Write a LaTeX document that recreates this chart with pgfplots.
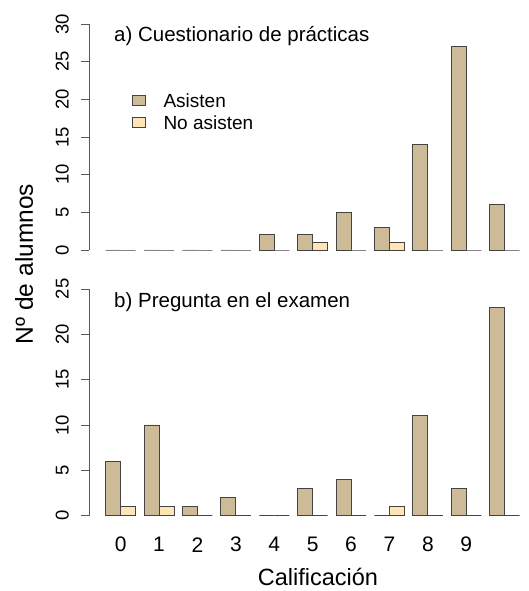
\documentclass[border=0pt]{standalone}
\usepackage{fontspec}
\setmainfont{Liberation Sans}
\usepackage{pgfplots}
\pgfplotsset{compat=1.18}
\definecolor{asis}{HTML}{CDBA96}
\definecolor{noasis}{HTML}{FFE4B5}
\definecolor{edge}{HTML}{444444}
\pgfplotsset{
  boxlegend/.style={legend image code/.code={\draw[##1] (0pt,-5pt) rectangle (13pt,5pt);}},
  panel/.style={
    anchor=south west, scale only axis,
    x=38.4pt, xmin=-0.825, xmax=10.5,
    ymin=0, clip=false,
    axis y line*=left, axis x line*=bottom,
    x axis line style={draw=none},
    y axis line style={draw=black!65, line width=0.8pt},
    ytick style={draw=black!65, line width=0.8pt},
    xtick style={draw=none},
    tick align=outside, major tick length=8pt,
    /pgf/number format/assume math mode=true,
    yticklabel style={rotate=90, anchor=south, inner sep=0pt, font=\fontsize{18.5}{18.5}\selectfont},
    yticklabel shift=12pt,
    xticklabel style={anchor=center, font=\fontsize{21}{21}\selectfont},
    xticklabel shift=21pt,
    ybar, bar width=15pt,
  },
}
\begin{document}
\begin{tikzpicture}
\useasboundingbox (0,0) rectangle (528pt,591pt);
% top panel
\begin{axis}[panel, at={(89pt,341pt)}, y=7.533pt, ymax=30, ytick={0,5,...,30}, xtick=\empty,
  legend style={at={(rel axis cs:0.098,0.704)}, anchor=north west, draw=none, fill=none,
    inner sep=0pt, outer sep=0pt, row sep=2pt, font=\fontsize{19}{19}\selectfont,
    nodes={inner sep=0pt, text height=16.6pt, text depth=3pt},
    /tikz/every odd column/.append style={column sep=18pt}},
  legend cell align=left]
\addplot[fill=asis, draw=edge, line width=0.9pt, bar shift=-7.5pt, boxlegend]
  coordinates {(0,0) (1,0) (2,0) (3,0) (4,2) (5,2) (6,5) (7,3) (8,14) (9,27) (10,6)};
\addplot[fill=noasis, draw=edge, line width=0.9pt, bar shift=7.5pt, boxlegend]
  coordinates {(0,0) (1,0) (2,0) (3,0) (4,0) (5,1) (6,0) (7,1) (8,0) (9,0) (10,0)};
\legend{Asisten, No asisten}
\end{axis}
% bottom panel
\begin{axis}[panel, at={(89pt,75.3pt)}, y=9.07pt, ymax=25, ytick={0,5,...,25}, xtick={0,...,9}]
\addplot[fill=asis, draw=edge, line width=0.9pt, bar shift=-7.5pt]
  coordinates {(0,6) (1,10) (2,1) (3,2) (4,0) (5,3) (6,4) (7,0) (8,11) (9,3) (10,23)};
\addplot[fill=noasis, draw=edge, line width=0.9pt, bar shift=7.5pt]
  coordinates {(0,1) (1,1) (2,0) (3,0) (4,0) (5,0) (6,0) (7,1) (8,0) (9,0) (10,0)};
\end{axis}
\node[anchor=base west, inner sep=0pt, font=\fontsize{20.5}{20.5}\selectfont] at (114pt,549pt) {a) Cuestionario de prácticas};
\node[anchor=base west, inner sep=0pt, font=\fontsize{20.5}{20.5}\selectfont] at (114pt,283pt) {b) Pregunta en el examen};
\node[rotate=90, anchor=center, inner sep=0pt, font=\fontsize{24.5}{24.5}\selectfont] at (24pt,327pt) {Nº de alumnos};
\node[anchor=center, inner sep=0pt, font=\fontsize{23.5}{23.5}\selectfont] at (318pt,14pt) {Calificación};
\end{tikzpicture}
\end{document}
